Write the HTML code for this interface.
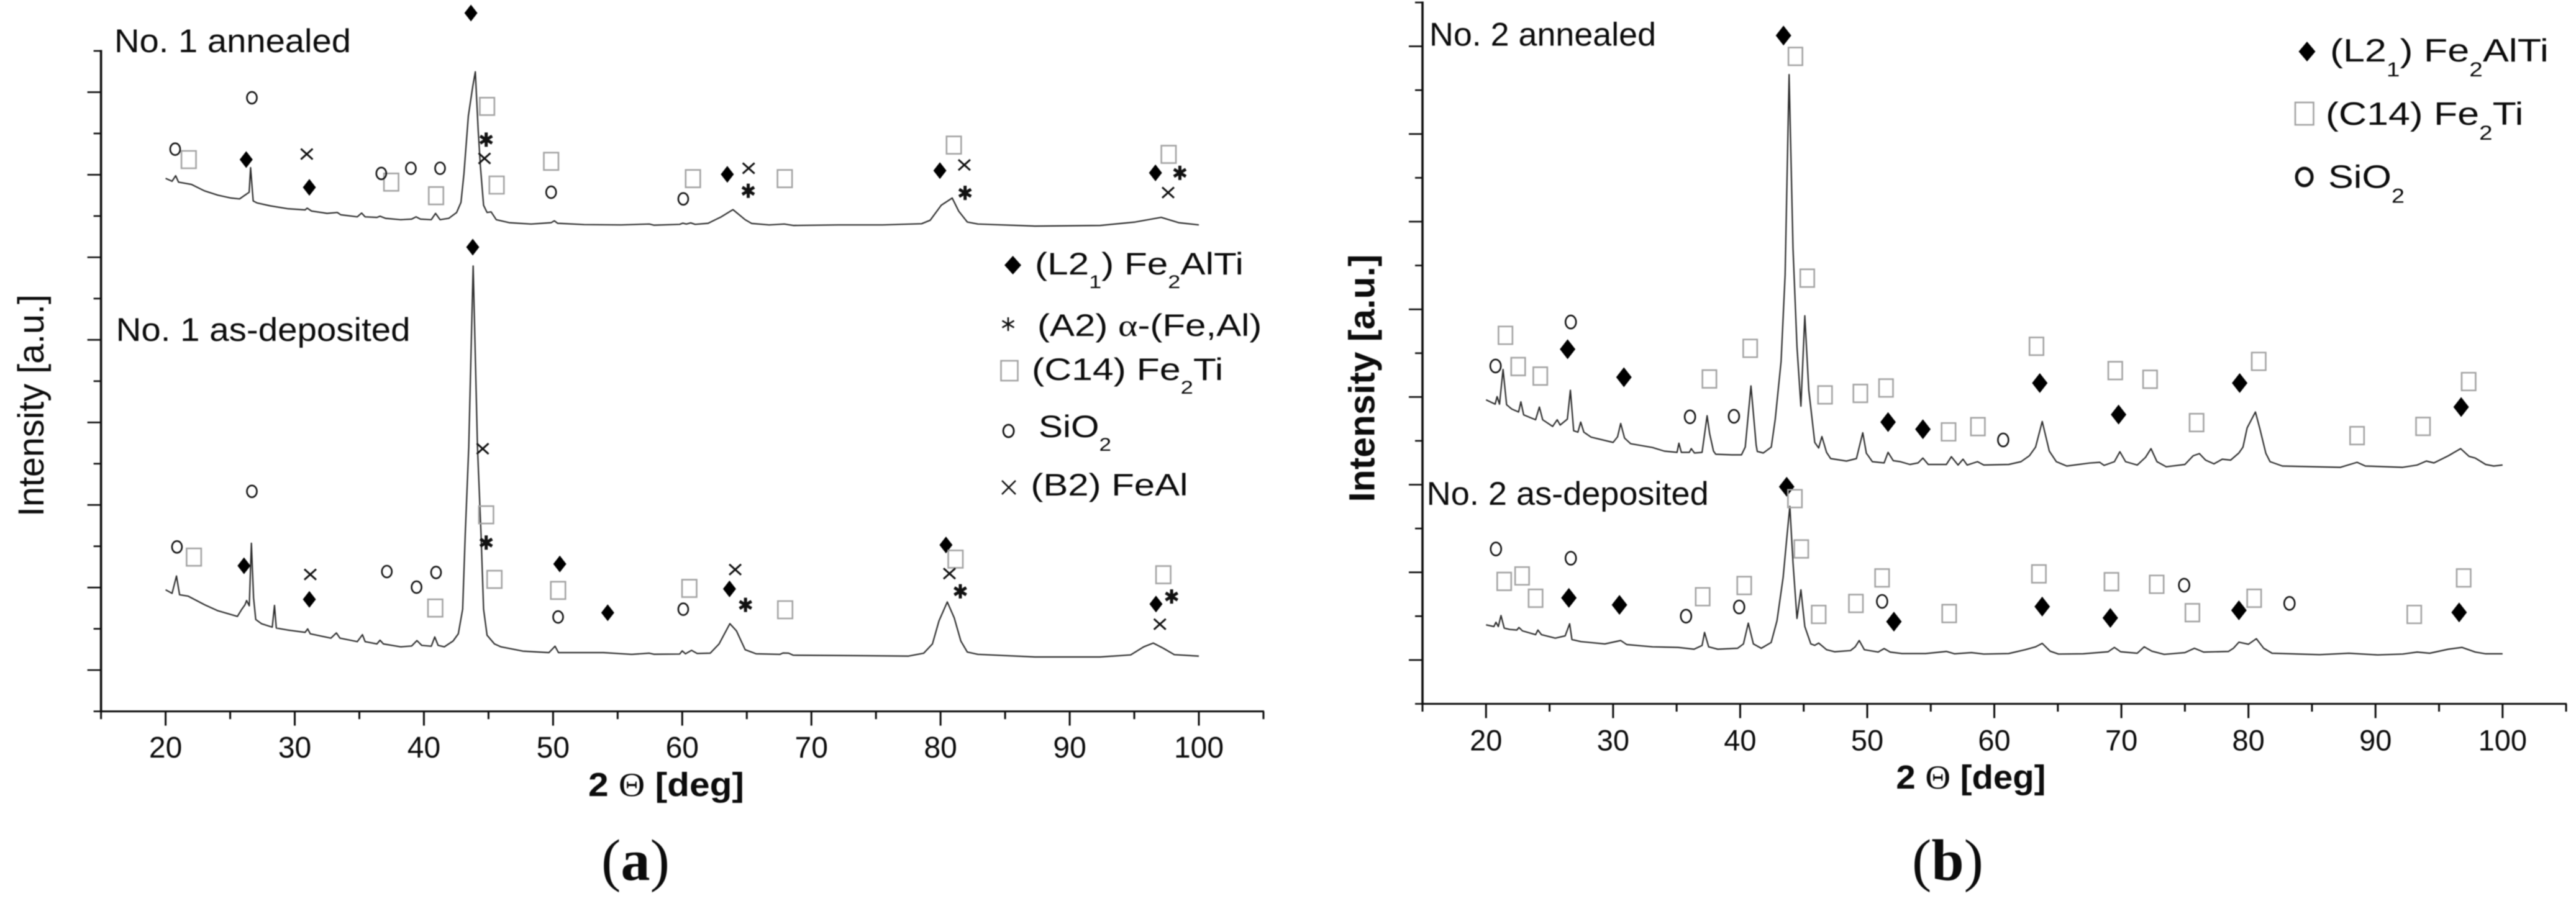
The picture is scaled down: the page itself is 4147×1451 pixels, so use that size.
<!DOCTYPE html>
<html lang="en">
<head>
<meta charset="utf-8">
<title>XRD patterns of No. 1 and No. 2 coatings</title>
<style>
  html, body { margin: 0; padding: 0; background: #ffffff; }
  #figure { display: block; width: 4147px; height: 1451px; background: #ffffff; }
  #figure text { font-family: "Liberation Sans", sans-serif; fill: #0c0c0c; }
  #figure text.serif { font-family: "Liberation Serif", serif; }
  #soft { filter: blur(0.9px); }
</style>
</head>
<body>
<svg id="figure" xmlns="http://www.w3.org/2000/svg" width="4147" height="1451" viewBox="0 0 4147 1451">
  <g id="soft">
    <g id="panel-a"></g>
    <g id="panel-b"></g>

    <text x="184" y="84" font-size="53" textLength="381" lengthAdjust="spacingAndGlyphs">No. 1 annealed</text>
    <text x="186.6" y="549" font-size="53" textLength="474" lengthAdjust="spacingAndGlyphs">No. 1 as-deposited</text>
    <text x="2301" y="73.6" font-size="53" textLength="365" lengthAdjust="spacingAndGlyphs">No. 2 annealed</text>
    <text x="2296.7" y="813" font-size="53" textLength="454" lengthAdjust="spacingAndGlyphs">No. 2 as-deposited</text>

    <text transform="translate(70,832) rotate(-90)" font-size="58" textLength="358" lengthAdjust="spacingAndGlyphs">Intensity [a.u.]</text>
    <text transform="translate(2212.5,808.6) rotate(-90)" font-size="58" font-weight="700" textLength="399" lengthAdjust="spacingAndGlyphs">Intensity [a.u.]</text>

    <text x="947" y="1282" font-size="54" font-weight="700" textLength="251" lengthAdjust="spacingAndGlyphs">2 <tspan class="serif" font-family="Liberation Serif" font-weight="400">Θ</tspan> [deg]</text>
    <text x="3052.4" y="1270" font-size="54" font-weight="700" textLength="241" lengthAdjust="spacingAndGlyphs">2 <tspan class="serif" font-family="Liberation Serif" font-weight="400">Θ</tspan> [deg]</text>

    <text class="serif" x="968" y="1417" font-size="94" textLength="110" lengthAdjust="spacingAndGlyphs">(<tspan font-weight="700">a</tspan>)</text>
    <text class="serif" x="3078" y="1417" font-size="94" textLength="115" lengthAdjust="spacingAndGlyphs">(<tspan font-weight="700">b</tspan>)</text>

    <g>
      <path d="M1630.6 412 L1644 427 L1630.6 442 L1617 427 Z" fill="#000"/>
      <text transform="translate(1666,442) scale(1.205,1)" font-size="50">(L2<tspan font-size="30" dy="22">1</tspan><tspan dy="-22">) Fe</tspan><tspan font-size="30" dy="22">2</tspan><tspan dy="-22">AlTi</tspan></text>

      <path d="M1623 511 V533 M1613.5 516.5 L1632.5 527.5 M1632.5 516.5 L1613.5 527.5" fill="none" stroke="#111" stroke-width="2.6"/>
      <text transform="translate(1670,541) scale(1.2,1)" font-size="50">(A2) <tspan font-family="Liberation Serif">α</tspan>-(Fe,Al)</text>

      <rect x="1611.5" y="581" width="27" height="32" fill="none" stroke="#a3a3a3" stroke-width="2.6"/>
      <text transform="translate(1661,612) scale(1.215,1)" font-size="50">(C14) Fe<tspan font-size="30" dy="22">2</tspan><tspan dy="-22">Ti</tspan></text>

      <ellipse cx="1623.6" cy="694" rx="8.5" ry="10" fill="none" stroke="#111" stroke-width="2.8"/>
      <text transform="translate(1672,704) scale(1.17,1)" font-size="50">SiO<tspan font-size="30" dy="22">2</tspan></text>

      <path d="M1613 774 L1635 796 M1635 774 L1613 796" fill="none" stroke="#111" stroke-width="2.6"/>
      <text x="1659.4" y="798" font-size="50" textLength="253" lengthAdjust="spacingAndGlyphs">(B2) FeAl</text>
    </g>

    <g>
      <path d="M3714 67 L3727.5 83 L3714 99 L3700.5 83 Z" fill="#000"/>
      <text transform="translate(3751,99) scale(1.21,1)" font-size="52">(L2<tspan font-size="32" dy="24">1</tspan><tspan dy="-24">) Fe</tspan><tspan font-size="32" dy="24">2</tspan><tspan dy="-24">AlTi</tspan></text>

      <rect x="3695" y="165" width="29.5" height="36" fill="none" stroke="#a3a3a3" stroke-width="2.6"/>
      <text transform="translate(3744,201) scale(1.205,1)" font-size="52">(C14) Fe<tspan font-size="32" dy="24">2</tspan><tspan dy="-24">Ti</tspan></text>

      <ellipse cx="3709.6" cy="285" rx="12.5" ry="14" fill="none" stroke="#111" stroke-width="5"/>
      <text transform="translate(3748,302.6) scale(1.177,1)" font-size="52">SiO<tspan font-size="32" dy="24">2</tspan></text>
    </g>
  </g>
</svg>

<script>
// ---------- axis tick values ----------
const xTickValues = [15, 20, 25, 30, 35, 40, 45, 50, 55, 60, 65, 70, 75, 80, 85, 90, 95, 100, 105];
const xTickLabels = [20, 30, 40, 50, 60, 70, 80, 90, 100];

// ---------- panel (a), No. 1 annealed ----------
const thetaA1 = [
  20, 20.5, 20.78, 21, 22, 23, 24.05, 25.06, 25.73, 26.14,
  26.47, 26.58, 26.78, 27.08, 28.1, 29.44, 30.8, 30.96, 31.3, 32.5,
  33.3, 33.56, 34.84, 35.18, 35.45, 36.36, 36.6, 37.03, 38.2, 39.05,
  39.39, 39.73, 40.57, 40.9, 41.25, 41.92, 42.53, 42.87, 43.1, 43.44,
  43.78, 43.98, 44.2, 44.38, 44.62, 44.89, 45.2, 45.6, 46.6, 48.3,
  49.85, 50.1, 50.35, 52.4, 55.26, 57.45, 57.8, 59.8, 60.05, 60.32,
  60.66, 61, 62, 63.02, 63.93, 64.87, 65.38, 66.73, 67.9, 68.6,
  72.1, 75.5, 78.53, 79.2, 80.05, 80.9, 81.4, 82.07, 82.9, 87.3,
  92.36, 95.06, 97.08, 98.43, 100
];
const intensityA1 = [
  858.4, 853.7, 862.6, 852.3, 848.6, 838.3, 831.3, 826.7, 825.3, 831.3,
  836, 875.6, 822, 818.8, 814.1, 809.5, 807.6, 810.4, 805.7, 802,
  803.4, 799.7, 796.4, 802.5, 796.4, 795.5, 797.4, 794, 791.8, 792.7,
  796.4, 792.7, 791.8, 802, 791.8, 794, 803.4, 819.7, 866, 959,
  1006, 1030, 936, 876, 815, 803.4, 804.4, 791.8, 787, 784.8,
  787, 790, 786, 783.9, 783.4, 784.8, 783, 784.3, 786.2, 784.8,
  786.7, 784.3, 786, 796.4, 808, 791.8, 785.7, 783.4, 784.8, 782.5,
  783.4, 783.4, 785.3, 790.9, 815, 826.7, 805.7, 788, 784.8, 781.5,
  782.5, 788, 795.5, 787, 783.4
];

// ---------- panel (a), No. 1 as-deposited ----------
const thetaA2 = [
  20, 20.5, 20.84, 21.08, 21.75, 23.04, 24.05, 25.56, 25.9, 26.14,
  26.27, 26.48, 26.64, 26.81, 26.98, 27.42, 28.26, 28.43, 28.57, 29.44,
  30.8, 31, 31.2, 32.8, 33.22, 33.5, 34.84, 35.24, 35.45, 36.36,
  36.6, 36.86, 38.2, 39.05, 39.46, 39.83, 40.57, 40.84, 41.1, 41.58,
  42.26, 42.66, 43, 43.2, 43.47, 43.81, 44.15, 44.42, 44.62, 44.89,
  45.46, 45.97, 47.66, 49.68, 50.15, 50.42, 53.9, 56.09, 57.45, 57.8,
  59.8, 60, 60.25, 60.72, 61.16, 62.17, 62.85, 63.69, 64.2, 64.87,
  65.72, 67.57, 67.8, 68.24, 68.6, 72.1, 77.52, 78.7, 79.37, 79.88,
  80.52, 81.06, 81.57, 82.07, 82.9, 87.3, 92.36, 94.72, 95.73, 96.47,
  97.25, 98.1, 100
];
const intensityA2 = [
  195.8, 190, 218, 187.8, 185.5, 171.5, 162, 152.9, 164.5, 171.5,
  178.5, 170, 270.8, 183, 148, 141.2, 135.6, 170.6, 134.2, 131,
  127.2, 132.8, 124.9, 117.9, 126.3, 117.9, 112.3, 123.5, 112.3, 108.6,
  114.6, 108.6, 103.9, 105.3, 114, 106.3, 104.9, 119.8, 106.3, 103.9,
  113.3, 124.9, 164.5, 285.7, 425, 717.3, 425, 285, 164.5, 122.6,
  108.6, 103.9, 97, 94.6, 104.9, 94.6, 94.6, 91.8, 93.7, 92,
  92.3, 97.4, 92.7, 98.3, 93.2, 93.7, 108.6, 141.2, 129.6, 99.3,
  92.7, 91.8, 94, 93.7, 90.4, 90, 89, 93.7, 108.6, 145.9,
  176.2, 150.5, 113.3, 95.5, 91.8, 87.6, 87.6, 90.9, 103.9, 110,
  101.6, 91.3, 89
];

// ---------- panel (b), No. 2 annealed ----------
const thetaB1 = [
  20, 20.72, 20.87, 21.06, 21.34, 21.62, 22.03, 22.56, 22.74, 22.96,
  23.9, 24.2, 24.46, 25.24, 25.6, 25.83, 26.4, 26.64, 26.9, 27.23,
  27.45, 27.7, 28.26, 30, 30.35, 30.6, 30.9, 31.38, 33.1, 34.03,
  35.03, 35.18, 35.37, 36, 36.15, 36.4, 37, 37.4, 37.6, 37.9,
  38.08, 39.33, 40.1, 40.4, 40.85, 41.26, 41.35, 41.82, 42.45, 42.76,
  43.22, 43.54, 43.85, 44.16, 44.47, 44.78, 45.09, 45.4, 45.87, 46.18,
  46.43, 46.8, 47.12, 48.37, 49.15, 49.37, 49.65, 49.93, 50.08, 50.4,
  51.33, 51.64, 52.05, 52.6, 53.36, 54, 54.38, 54.8, 56.23, 56.62,
  57.15, 57.54, 57.86, 58.68, 59.17, 61.13, 62.1, 62.76, 63.25, 63.77,
  64.33, 64.88, 65.7, 67.5, 68.3, 68.64, 69.45, 69.88, 70.33, 71.25,
  71.9, 72.33, 72.8, 73.53, 75, 75.65, 76.14, 76.63, 77.29, 77.94,
  78.6, 79.25, 79.57, 79.9, 80.55, 80.88, 81.37, 81.7, 82.67, 87.24,
  88.55, 89.2, 92.14, 93.28, 94, 94.6, 95.73, 96.7, 97.36, 97.85,
  98.67, 99.3, 100
];
const intensityB1 = [
  489.6, 482.6, 494.8, 482.6, 538.5, 481.7, 474.7, 470, 486.4, 465.4,
  457.5, 478, 457.5, 446.8, 457.5, 449, 458.5, 505, 439.8, 437.5,
  453.8, 437.5, 429.6, 421, 430, 451.5, 428, 418.9, 412.8, 407,
  405, 419.8, 405, 405, 411, 404, 405, 464, 435, 407,
  402, 401, 401, 413.5, 512, 416.5, 406.5, 404, 413.5, 458.5,
  551.5, 691, 1013.4, 733, 575, 479.4, 625, 505, 421, 412,
  430.5, 405, 395, 391, 395, 413.5, 436.6, 403.5, 399.5, 390,
  388, 405, 391.6, 390, 385.5, 388, 395.8, 385.5, 385.5, 398,
  384.6, 394, 384.6, 390, 384.6, 385.5, 390, 399.5, 413.5, 454.7,
  407, 390, 383, 387.8, 389, 384, 390, 406, 390, 384.6,
  397, 411, 390, 381.8, 385.5, 399.5, 403, 392.5, 386.5, 394,
  392.5, 404, 413.5, 444.5, 470, 444.5, 403.5, 390, 383, 380.9,
  389, 383, 380.9, 384.6, 391, 388, 399.5, 411, 398.6, 395.8,
  385.5, 383, 384.6
];

// ---------- panel (b), No. 2 as-deposited ----------
const thetaB2 = [
  20, 20.62, 20.78, 20.97, 21.18, 21.43, 21.87, 22.43, 22.59, 22.87,
  23.9, 24.08, 24.36, 25.45, 26.23, 26.58, 26.76, 27.48, 29.35, 30.6,
  31.07, 33.1, 35.12, 36.37, 37, 37.2, 37.52, 38.24, 39.8, 40.26,
  40.64, 41.04, 41.66, 42.44, 42.9, 43.38, 43.7, 43.91, 44.16, 44.47,
  44.78, 45.09, 45.56, 45.87, 46.18, 46.8, 47.43, 48.68, 49.05, 49.37,
  49.77, 50.86, 51.33, 51.8, 52.73, 54.6, 56.23, 56.88, 58.2, 59.17,
  61.13, 62.43, 63.25, 63.77, 64.39, 65.05, 67, 68.96, 69.45, 69.94,
  71.25, 71.8, 72.4, 73.37, 75, 75.75, 76.47, 78.43, 78.82, 79.25,
  80, 80.62, 81.2, 81.86, 85.6, 87.9, 90.18, 92.14, 93.28, 94.26,
  95.73, 96.8, 97.85, 98.67, 100
];
const intensityB2 = [
  127.2, 124.5, 131.4, 124.5, 142.2, 122, 119.8, 118.9, 123, 117.5,
  111.4, 118.9, 111.4, 105.8, 109.5, 129, 103.5, 100.2, 96.5, 102,
  95.5, 91.8, 90.9, 88, 94, 115, 91.8, 88, 89.5, 96.5,
  130, 96.5, 89.5, 98.8, 133.8, 203.7, 273.6, 318, 227, 137.5,
  183.7, 124.5, 96.5, 94.2, 97.9, 87.2, 83.9, 85.8, 91.8, 102,
  87.2, 83.4, 89, 83.4, 81, 81, 84.4, 80.6, 82.5, 80.2,
  81, 87.2, 91.8, 97.4, 84.8, 80.2, 80.6, 83.9, 90.9, 83.9,
  81.5, 91.8, 84.8, 79.7, 82.5, 89.5, 83.4, 84.4, 89.5, 99.3,
  96, 104.9, 89.5, 81.5, 79.2, 81.5, 78.8, 80.2, 83.4, 81.5,
  88, 90.9, 83.4, 80.6, 80.6
];

// ---------- phase annotations, panel (a): peak 2-theta and label height ----------
const l21ThetaA = [43.64, 26.24, 31.13, 63.49, 79.95, 96.64, 43.78, 26.07, 31.13, 50.52, 54.23, 63.66, 80.42, 96.68];
const l21LevelA = [1124.6, 888.6, 843.9, 864.9, 870.9, 867.2, 747.6, 234.5, 180.4, 237.3, 158.9, 197.2, 268, 172.9];
const a2ThetaA = [44.82, 65.11, 81.9, 98.53, 44.82, 64.9, 81.53, 97.89];
const a2LevelA = [920.7, 838.3, 835, 867.2, 271.8, 171.5, 193.4, 185];
const c14ThetaA = [44.89, 21.79, 37.47, 40.94, 45.63, 49.85, 60.83, 67.94, 81.03, 97.66, 44.82, 22.19, 40.88, 45.46, 50.39, 60.55, 67.97, 81.16, 97.25];
const c14LevelA = [974.3, 888.6, 852.3, 830.4, 847.6, 885.8, 857.9, 857.9, 911.9, 897, 316.5, 248.4, 166.4, 212.5, 194.8, 198, 163.6, 245.2, 220];
const sio2ThetaA = [26.68, 20.74, 36.7, 38.99, 41.25, 49.85, 60.08, 26.68, 20.88, 37.13, 39.43, 40.94, 50.39, 60.08];
const sio2LevelA = [988.2, 905.4, 866.3, 874.6, 874.6, 836, 825.3, 354.3, 264.8, 225.1, 200, 223.7, 152, 164.5];
const b2ThetaA = [30.93, 44.69, 65.14, 81.84, 97.62, 31.2, 44.55, 64.1, 80.69, 96.98];
const b2LevelA = [897.5, 890.5, 874.6, 880, 835.5, 220.5, 423, 228.4, 221.9, 140.3];

// ---------- phase annotations, panel (b): peak 2-theta and label height ----------
const l21ThetaB = [43.41, 26.42, 30.85, 51.64, 54.38, 63.58, 69.78, 79.31, 96.74, 43.66, 26.52, 30.5, 52.1, 63.77, 69.13, 79.25, 96.58];
const l21LevelB = [1076.2, 571.1, 526, 453.8, 442.2, 516.6, 465.9, 516.6, 478, 349.6, 170.6, 159.4, 132.4, 156.6, 138.4, 150.6, 147.3];
const c14ThetaB = [44.35, 45.28, 21.53, 22.53, 24.27, 37.58, 40.79, 46.68, 49.46, 51.48, 56.4, 58.71, 63.32, 69.52, 72.26, 75.92, 80.81, 88.55, 93.74, 97.33, 44.31, 44.81, 21.43, 22.84, 23.9, 37.05, 40.32, 46.18, 49.11, 51.17, 56.45, 63.51, 69.22, 72.78, 75.59, 80.45, 93.05, 96.94];
const c14LevelB = [1042.7, 685.6, 593.5, 543.2, 527.8, 523.2, 572.5, 497.6, 499.9, 508.7, 438, 446.4, 575.8, 536.7, 522.7, 452.9, 551.5, 431.9, 446.8, 519, 330.5, 249.4, 197.2, 206, 170.1, 172.5, 190.6, 144, 161.7, 202.8, 145.4, 209.3, 196.7, 192.5, 146.8, 170.1, 144, 202.8];
const sio2ThetaB = [26.67, 20.75, 36.05, 39.51, 60.7, 20.78, 26.67, 35.74, 39.92, 51.17, 74.94, 83.23];
const sio2LevelB = [614.9, 544.1, 462.2, 463.1, 425, 249.4, 234.5, 141.2, 156, 165, 191.1, 161.8];

// ---------- drawing ----------
const SVG_NS = 'http://www.w3.org/2000/svg';

function makeScale(d0, d1, r0, r1) {
  return function (v) { return r0 + (v - d0) * (r1 - r0) / (d1 - d0); };
}

function tracePath(thetas, values, xs, ys) {
  let d = '';
  for (let i = 0; i < thetas.length; i++) {
    d += (i ? 'L' : 'M') + xs(thetas[i]).toFixed(1) + ' ' + ys(values[i]).toFixed(1);
  }
  return d;
}

function markerPath(kind, cx, cy, w, h) {
  const rx = w / 2, ry = h / 2;
  if (kind === 'l21') {
    return 'M' + cx + ' ' + (cy - ry) + 'L' + (cx + rx) + ' ' + cy + 'L' + cx + ' ' + (cy + ry) + 'L' + (cx - rx) + ' ' + cy + 'Z';
  }
  if (kind === 'c14') {
    return 'M' + (cx - rx) + ' ' + (cy - ry) + 'H' + (cx + rx) + 'V' + (cy + ry) + 'H' + (cx - rx) + 'Z';
  }
  if (kind === 'sio2') {
    return 'M' + (cx - rx) + ' ' + cy + 'A' + rx + ' ' + ry + ' 0 1 0 ' + (cx + rx) + ' ' + cy + 'A' + rx + ' ' + ry + ' 0 1 0 ' + (cx - rx) + ' ' + cy + 'Z';
  }
  if (kind === 'b2') {
    return 'M' + (cx - rx) + ' ' + (cy - ry) + 'L' + (cx + rx) + ' ' + (cy + ry) + 'M' + (cx + rx) + ' ' + (cy - ry) + 'L' + (cx - rx) + ' ' + (cy + ry);
  }
  const sx = rx * 0.87, sy = ry * 0.5;
  return 'M' + cx + ' ' + (cy - ry) + 'V' + (cy + ry) +
    'M' + (cx - sx) + ' ' + (cy - sy) + 'L' + (cx + sx) + ' ' + (cy + sy) +
    'M' + (cx + sx) + ' ' + (cy - sy) + 'L' + (cx - sx) + ' ' + (cy + sy);
}

function drawMarkers(parent, kind, thetas, levels, xs, ys, w, h) {
  for (let i = 0; i < thetas.length; i++) {
    const el = document.createElementNS(SVG_NS, 'path');
    el.setAttribute('d', markerPath(kind, xs(thetas[i]), ys(levels[i]), w, h));
    if (kind === 'l21') {
      el.setAttribute('fill', '#000');
    } else {
      el.setAttribute('fill', 'none');
      el.setAttribute('stroke', kind === 'c14' ? '#a3a3a3' : '#111');
      el.setAttribute('stroke-width', kind === 'a2' ? 5 : kind === 'c14' ? 2.6 : kind === 'sio2' ? 2.6 : 3);
    }
    
    
    parent.appendChild(el);
  }
}

function drawLine(parent, x1, y1, x2, y2, width, name) {
  const el = document.createElementNS(SVG_NS, 'line');
  el.setAttribute('x1', x1);
  el.setAttribute('y1', y1);
  el.setAttribute('x2', x2);
  el.setAttribute('y2', y2);
  el.setAttribute('stroke', '#0c0c0c');
  el.setAttribute('stroke-width', width);
  
  
  parent.appendChild(el);
}

function drawAxes(parent, xs, ys, yMax, labelY, labelSize) {
  const xLeft = xs(15), xRight = xs(105), yBottom = ys(0), yTop = ys(yMax);
  drawLine(parent, xLeft, yTop - 1.5, xLeft, yBottom + 1.5, 3.6, 'y-axis-line');
  drawLine(parent, xLeft - 1, yBottom, xRight + 1, yBottom, 3, 'x-axis-line');
  for (let i = 0; i <= 16; i++) {
    const y = ys(yMax * i / 16);
    drawLine(parent, xLeft - (i % 2 ? 22 : 12), y, xLeft, y, 2.6, 'y-axis-tick');
  }
  xTickValues.forEach(function (t) {
    const x = xs(t);
    drawLine(parent, x, yBottom, x, yBottom + (t % 10 === 0 ? 23 : 12.5), 3, 'x-axis-tick');
  });
  xTickLabels.forEach(function (t) {
    const el = document.createElementNS(SVG_NS, 'text');
    el.setAttribute('x', xs(t));
    el.setAttribute('y', labelY);
    el.setAttribute('font-size', labelSize);
    el.setAttribute('text-anchor', 'middle');
    el.textContent = String(t);
    
    
    parent.appendChild(el);
  });
}

function drawTrace(parent, thetas, values, xs, ys, name) {
  const el = document.createElementNS(SVG_NS, 'path');
  el.setAttribute('d', tracePath(thetas, values, xs, ys));
  el.setAttribute('fill', 'none');
  el.setAttribute('stroke', '#2b2b2b');
  el.setAttribute('stroke-width', 2.2);
  el.setAttribute('stroke-linejoin', 'round');
  
  
  parent.appendChild(el);
}

// Panel (a)
const panelA = document.getElementById('panel-a');
const xA = makeScale(20, 100, 266.6, 1930);
const yA = makeScale(0, 1063.6, 1145.6, 82);
drawAxes(panelA, xA, yA, 1063.6, 1220, 48);
drawTrace(panelA, thetaA1, intensityA1, xA, yA, 'no1-annealed-trace');
drawTrace(panelA, thetaA2, intensityA2, xA, yA, 'no1-as-deposited-trace');
drawMarkers(panelA, 'l21', l21ThetaA, l21LevelA, xA, yA, 21, 27);
drawMarkers(panelA, 'a2', a2ThetaA, a2LevelA, xA, yA, 22, 23);
drawMarkers(panelA, 'c14', c14ThetaA, c14LevelA, xA, yA, 23.5, 28);
drawMarkers(panelA, 'sio2', sio2ThetaA, sio2LevelA, xA, yA, 16, 19);
drawMarkers(panelA, 'b2', b2ThetaA, b2LevelA, xA, yA, 19, 17);

// Panel (b)
const panelB = document.getElementById('panel-b');
const xB = makeScale(20, 100, 2392.3, 4028.8);
const yB = makeScale(0, 1129.5, 1133.5, 4);
drawAxes(panelB, xB, yB, 1129.5, 1208.6, 47);
drawTrace(panelB, thetaB1, intensityB1, xB, yB, 'no2-annealed-trace');
drawTrace(panelB, thetaB2, intensityB2, xB, yB, 'no2-as-deposited-trace');
drawMarkers(panelB, 'l21', l21ThetaB, l21LevelB, xB, yB, 25, 32);
drawMarkers(panelB, 'c14', c14ThetaB, c14LevelB, xB, yB, 22.5, 28.5);
drawMarkers(panelB, 'sio2', sio2ThetaB, sio2LevelB, xB, yB, 17, 21);
</script>
</body>
</html>
